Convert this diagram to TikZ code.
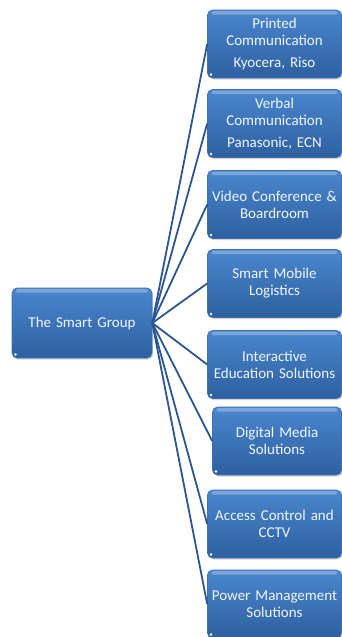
\documentclass[tikz,border=0pt]{standalone}
\usepackage{fontspec}
\setmainfont{Carlito}
\usetikzlibrary{shadows}
\definecolor{boxtop}{RGB}{74,134,206}
\definecolor{boxbot}{RGB}{46,96,160}
\definecolor{boxedge}{RGB}{60,112,178}
\definecolor{linkcol}{RGB}{44,86,146}
\definecolor{txtcol}{RGB}{240,246,255}
\tikzset{
  sbox/.style={rectangle, rounded corners=5pt, top color=boxtop, bottom color=boxbot,
    draw=boxedge, line width=0.6pt, text=txtcol, align=center, inner sep=0pt,
    font=\fontsize{15}{17}\selectfont,
    drop shadow={opacity=0.35, shadow xshift=1pt, shadow yshift=-1.5pt},
    path picture={
      \fill[white,opacity=0.28,rounded corners=1.5pt]
        ([xshift=4pt,yshift=-1.2pt]path picture bounding box.north west) rectangle
        ([xshift=-4pt,yshift=-4.5pt]path picture bounding box.north east);
      \fill[white] ([xshift=3.5pt,yshift=3.5pt]path picture bounding box.south west) circle (1.3pt);
    }},
  child/.style={sbox, minimum width=134pt, minimum height=68pt, text width=132pt},
  link/.style={draw=linkcol, line width=1.8pt},
}
\begin{document}
\begin{tikzpicture}[x=1pt,y=1pt]
\useasboundingbox (0,0) rectangle (342,-637);
\node[sbox, minimum width=140pt, minimum height=70pt, text width=138pt] (root) at (82,-323) {The Smart Group};
\node[child] (c1) at (274.5,-44) {Printed\\Communication\\[5pt]Kyocera, Riso};
\node[child] (c2) at (274.5,-123.5) {Verbal\\Communication\\[5pt]Panasonic, ECN};
\node[child] (c3) at (274.5,-204.5) {Video Conference \&\\Boardroom};
\node[child] (c4) at (274.5,-283.5) {Smart Mobile\\Logistics};
\node[child] (c5) at (274.5,-364.5) {Interactive\\Education Solutions};
\node[child, minimum width=129pt, text width=127pt] (c6) at (277,-441) {Digital Media\\Solutions};
\node[child] (c7) at (274.5,-524) {Access Control and\\CCTV};
\node[child] (c8) at (274.5,-604) {Power Management\\Solutions};
\foreach \c in {c1,c2,c3,c4,c5,c6,c7,c8}
  \draw[link] (root.east) -- (\c.west);
\end{tikzpicture}
\end{document}
